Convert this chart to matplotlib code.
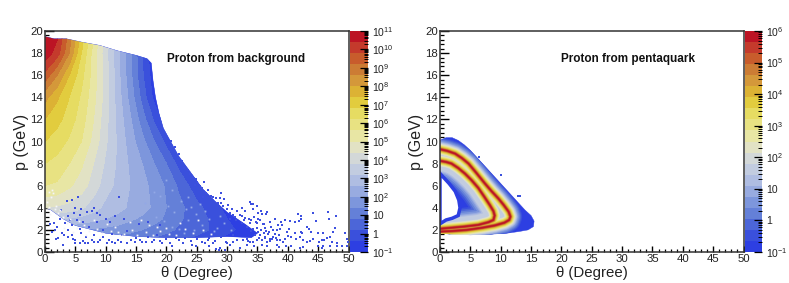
import matplotlib
matplotlib.use("Agg")
import matplotlib.pyplot as plt
from matplotlib.colors import ListedColormap, BoundaryNorm
from matplotlib.patches import Polygon
from matplotlib.ticker import LogLocator, MultipleLocator
import numpy as np

plt.rcParams['font.family'] = ['Liberation Sans', 'DejaVu Sans']
plt.rcParams['mathtext.default'] = 'regular'

BANDS = ['#2d3fe2', '#3a50dc', '#4c66d8', '#6480d8', '#7d96dc', '#98abe0', '#afbde2', '#c2cce0',
         '#d3d8d8', '#e2e2c4', '#e8e6a4', '#e8e282', '#e6dc62', '#e2cc3e', '#dcb234', '#d4983a',
         '#cc7c34', '#c85c2c', '#c43a2c', '#bc1424']
# stroke width of each band around a pentaquark ridge, points
RIDGE_WIDTHS = [0, 17, 15.5, 14, 12.5, 11, 10, 9, 8, 7.2, 6.4, 5.6, 4.8, 4, 3.2, 2.6, 2.2, 1.8, 1.4, 1.0]

# background histogram, log10(counts)
BG_THETA = [0, 2, 4, 6, 8, 10, 12, 14, 16, 18, 20, 22, 25, 28, 32, 36, 50]
BG_P = [1, 2, 3, 4, 6, 8, 10, 12, 14, 16, 18, 20]
BG_LOG = [
    [0.5, 0.6, 0.8, 1.0, 1.0, 1.0, 1.0, 0.9, 0.8, 0.6, 0.4, 0.2, 0, -0.4, -1, -1, -1],
    [1.5, 2.0, 2.2, 2.0, 1.9, 1.8, 1.7, 1.6, 1.4, 1.2, 1.0, 0.7, 0.4, 0.1, -0.5, -1, -1],
    [3.3, 3.2, 3.1, 3.0, 2.8, 2.6, 2.4, 2.1, 1.9, 1.6, 1.3, 0.9, 0.5, 0.0, -0.8, -1, -1],
    [4.4, 4.3, 4.2, 3.9, 3.5, 3.0, 2.8, 2.5, 2.2, 1.9, 1.4, 1.0, 0.4, -0.2, -1, -1, -1],
    [5.6, 5.5, 5.1, 4.7, 4.1, 3.5, 3.0, 2.6, 2.2, 1.8, 1.3, 0.7, -0.2, -1, -1, -1, -1],
    [6.2, 6.0, 5.6, 5.1, 4.4, 3.7, 3.1, 2.5, 2.0, 1.4, 0.8, 0.0, -1, -1, -1, -1, -1],
    [6.8, 6.5, 6.1, 5.6, 4.8, 3.9, 3.1, 2.3, 1.6, 0.8, 0.0, -0.9, -1, -1, -1, -1, -1],
    [7.4, 7.0, 6.5, 5.9, 5.0, 4.0, 3.0, 2.1, 1.1, 0.1, -0.8, -1, -1, -1, -1, -1, -1],
    [8.2, 7.5, 6.8, 6.1, 5.2, 4.1, 2.9, 1.8, 0.6, -0.6, -1, -1, -1, -1, -1, -1, -1],
    [9.6, 8.6, 7.4, 6.4, 5.3, 4.1, 2.8, 1.6, 0.3, -0.8, -1, -1, -1, -1, -1, -1, -1],
    [10.8, 10.1, 8.6, 6.8, 5.3, 4.0, 2.8, 1.6, 0.2, -1, -1, -1, -1, -1, -1, -1, -1],
    [11, 10.6, 9.0, 7.2, 5.8, 4.2, 2.8, 1.6, 0.3, -1, -1, -1, -1, -1, -1, -1, -1],
]
BG_EDGE_THETA = [0, 1.5, 3.5, 6, 9, 12, 15, 16.8, 17.5, 17.8, 18.2, 18.8, 19.5, 20.5, 22, 24, 26, 28, 30, 33,
                 35, 34, 30, 25, 20, 15, 10, 5, 3, 1, 0]
BG_EDGE_P = [19.5, 19.3, 19.3, 19, 18.7, 18.2, 17.8, 17.5, 17.1, 15.5, 14, 12.5, 11.2, 10.2, 8.7, 7.2, 5.7, 4.6,
             3.6, 2.5, 1.7, 1.3, 1.4, 1.3, 1.3, 1.4, 1.7, 2.4, 3.0, 3.8, 4.0]

# scattered single entries outside the dense part
DOT_THETA = [34.0, 34.9, 34.2, 35.6, 36.6, 35.1, 35.7, 36.4, 37.9, 37.0, 35.1, 39.6, 40.3, 41.2, 41.7, 42.1, 42.1,
             41.9, 44.1, 46.7, 47.9, 46.8, 44.6, 38.4, 38.8, 39.0, 38.2, 38.7, 39.9, 40.2, 41.2, 42.2, 42.4, 43.1,
             43.5, 43.8, 44.9, 45.8, 47.4, 47.7, 49.4, 49.8, 49.9, 47.0, 46.4, 45.6, 44.2, 43.6, 43.1, 42.5, 42.0,
             41.4, 40.6, 40.1, 39.5, 39.2, 38.7, 38.2, 37.6, 37.1, 36.2, 35.7, 34.9, 34.3, 34.4, 35.7, 36.5, 38.2,
             38.6, 39.7, 40.6, 42.0, 42.5, 45.0, 45.8, 47.0, 48.1, 48.1, 49.0, 49.7, 45.2, 46.0, 47.2, 45.7,
             20.7, 21.4, 22.0, 22.5, 22.9, 23.9, 25.1, 26.2, 24.7, 25.8, 27.3, 27.7, 29.0, 29.5, 28.9, 26.0, 29.0,
             30.2, 33.7, 34.3, 35.0, 32.4, 31.7, 32.9, 34.2, 35.1, 30.5, 29.7, 31.0, 32.1, 33.8, 34.9, 32.8, 33.2,
             34.3, 35.1, 33.8, 32.1, 30.5, 28.8, 27.7, 26.4, 24.2, 22.8, 20.6, 19.2, 17.6, 28.6, 33.2, 31.6, 29.9,
             25.8, 2.9, 1.8, 2.2, 1.65, 3.85, 5.0, 5.7, 6.6, 7.1, 5.0, 7.7, 8.8, 10.2, 11.0, 11.5, 12.6, 13.5, 14.8,
             15.6, 16.7, 3.85, 4.4, 6.0, 8.0, 9.6, 12.2, 5.5, 4.4, 3.6, 8.5, 9.1, 7.7, 5.8, 4.7, 4.1, 6.3, 8.5, 10.7,
             23.5, 24.3, 24.9, 25.6, 26.8, 26.5, 28.2, 28.5, 29.3, 30.0, 30.8, 31.3, 32.5, 33.0, 33.6, 34.4, 35.5,
             36.0, 36.3, 37.2, 37.6, 36.9, 37.9, 38.6, 37.0, 36.5, 36.0, 35.0, 34.6, 33.5, 32.6, 31.0, 30.0, 28.0,
             27.0, 29.6, 28.2, 24.9, 26.9, 24.0, 22.0, 21.0, 19.0, 18.0, 16.0, 14.2, 12.0, 10.6, 9.0, 8.0, 6.3,
             4.6, 3.2, 2.8, 1.2, 0.8, 1.5, 2.0, 2.5, 3.3, 4.5, 5.2, 3.8, 2.6, 5.8, 6.8, 7.3, 9.5, 11.0, 12.5, 13.5,
             15.0, 17.0, 18.5, 20.0, 21.5, 23.0, 25.0, 27.0, 29.0, 31.0, 4.9, 6.0, 7.0, 8.0, 10.0, 11.5, 13.0,
             15.5, 17.0, 19.0,
             35.4, 36.2, 36.8, 35.9, 34.7, 33.9, 37.4, 38.0, 36.4, 35.2, 33.2, 32.4, 31.4, 30.4, 34.0, 35.6]
DOT_P = [4.3, 4.2, 3.9, 3.7, 3.6, 3.5, 3.4, 3.4, 3.0, 2.7, 2.96, 2.9, 2.8, 2.75, 3.4, 3.26, 3.0,
         2.8, 3.5, 3.6, 3.26, 2.95, 2.8, 2.4, 2.7, 2.4, 2.0, 2.05, 1.8, 2.05, 1.7, 1.84, 1.7, 2.3,
         2.1, 1.84, 1.7, 1.7, 1.84, 2.2, 1.75, 1.2, 0.9, 1.4, 1.3, 1.1, 1.2, 1.0, 0.9, 1.1, 1.4,
         1.2, 1.4, 1.45, 1.2, 0.9, 1.1, 1.1, 1.4, 1.2, 1.4, 1.1, 1.1, 0.9, 0.5, 0.6, 0.5, 0.6,
         0.45, 0.57, 0.5, 0.33, 0.42, 0.5, 0.5, 0.57, 0.8, 0.57, 0.5, 0.5, 0.9, 1.1, 0.9, 0.33,
         10.05, 9.5, 8.9, 8.2, 7.6, 7.1, 6.3, 6.3, 6.1, 5.8, 5.1, 5.0, 5.3, 4.8, 4.85, 5.0, 4.4,
         4.25, 4.5, 4.3, 4.2, 4.0, 3.75, 3.7, 3.9, 3.5, 3.5, 3.35, 3.35, 3.35, 2.6, 2.6, 2.9, 2.3,
         2.1, 1.84, 0.9, 0.33, 0.63, 0.33, 0.78, 0.78, 0.63, 0.78, 0.78, 0.78, 0.87, 0.2, 0.63, 1.1, 0.93,
         0.93, 0.63, 1.2, 1.3, 2.0, 1.4, 0.8, 0.8, 0.8, 0.8, 1.1, 1.1, 0.9, 0.8, 0.9, 0.8, 0.9, 0.8, 0.9,
         1.1, 0.9, 2.0, 1.54, 1.7, 1.54, 1.4, 4.95, 5.0, 4.7, 4.6, 3.5, 3.35, 3.7, 3.35, 3.5, 2.9, 2.75, 2.75, 2.75,
         7.4, 6.8, 6.6, 6.0, 5.6, 5.3, 4.9, 4.4, 4.2, 3.9, 3.9, 3.2, 3.3, 3.1, 3.0, 3.2, 2.9,
         2.5, 2.2, 2.3, 2.0, 1.8, 1.6, 1.5, 1.0, 0.9, 1.7, 2.2, 1.5, 1.0, 1.1, 0.9, 0.8, 1.0,
         0.5, 0.15, 0.3, 0.5, 1.05, 1.0, 1.05, 0.5, 1.0, 1.1, 0.95, 1.1, 1.1, 1.05, 1.1, 0.95, 1.0,
         1.2, 1.5, 1.7, 1.8, 2.5, 2.6, 2.3, 3.0, 2.6, 2.4, 2.9, 3.3, 3.8, 2.1, 1.4, 2.3, 2.0, 1.6, 1.5, 1.9,
         1.3, 1.4, 1.5, 1.2, 1.3, 1.3, 1.2, 1.3, 1.4, 1.5, 4.0, 3.9, 3.6, 4.0, 3.0, 3.3, 3.0,
         2.5, 2.7, 2.4,
         1.5, 1.3, 1.6, 2.5, 2.7, 2.9, 1.2, 1.3, 1.9, 1.25, 1.15, 2.6, 2.9, 3.0, 1.9, 2.0]

# pale gaps inside the dense low-momentum part
GAP_THETA = [0.6, 1.0, 1.4, 0.4, 1.8, 2.4, 0.8, 3.0, 3.6, 5.2, 6.4, 7.2, 8.6, 9.4, 10.8, 11.6, 13.0, 14.4,
             15.2, 16.6, 17.8, 19.0, 20.4, 21.6, 23.0, 24.4, 26.0, 3.2, 4.6, 6.8, 9.0, 12.4, 14.0, 18.4, 22.2,
             1.2, 0.7, 1.6, 2.1, 4.2, 5.6, 8.1, 10.2, 12.0, 15.8, 17.2, 20.0, 25.2, 27.4]
GAP_P = [5.4, 5.0, 5.3, 4.5, 4.2, 3.8, 3.4, 3.2, 2.6, 2.2, 2.4, 1.9, 2.1, 1.7, 1.9, 2.3, 1.6, 2.0,
         1.5, 1.8, 1.5, 1.9, 1.6, 1.5, 2.1, 1.7, 2.0, 2.2, 1.8, 1.5, 1.4, 1.5, 2.7, 2.3, 2.6,
         5.6, 4.1, 3.9, 3.5, 3.0, 2.8, 2.9, 2.5, 1.8, 2.9, 2.4, 2.2, 2.9, 1.6]

# paler bins scattered through the blue part
PALE_THETA = [19.0, 20.2, 21.3, 22.4, 23.6, 24.8, 25.9, 27.1, 28.3, 29.5, 18.3, 19.6, 20.9, 22.0, 23.2, 24.5, 26.4,
              27.8, 16.5, 18.0, 21.0, 23.5, 25.5, 28.9, 30.6, 20.0, 22.9, 24.1]
PALE_P = [5.1, 4.2, 3.6, 4.6, 2.9, 3.4, 2.4, 3.0, 2.2, 2.6, 3.2, 2.8, 2.3, 2.1, 3.9, 2.0, 3.7,
          1.9, 4.4, 5.4, 5.6, 5.0, 4.3, 3.3, 2.0, 6.5, 1.7, 4.1]

# pentaquark proton region and its two ridges
PQ_EDGE_THETA = [0, 1, 2, 3, 4, 5, 6, 7, 8, 9, 10, 11, 12, 13, 14, 15, 15.5, 15.4, 14.5, 13, 11, 8, 5, 2, 0]
PQ_EDGE_P = [10.1, 10.35, 10.35, 10.1, 9.7, 9.2, 8.6, 8.0, 7.4, 6.8, 6.2, 5.6, 5.0, 4.4, 3.8, 3.3, 2.8, 2.3, 2.0,
             1.85, 1.7, 1.6, 1.55, 1.6, 1.7]
PQ_HOLE_THETA = [0, 1, 2, 3, 3.3, 3.1, 2.5, 1.5, 0.5, 0]
PQ_HOLE_P = [2.55, 2.9, 3.05, 3.3, 4.0, 4.7, 5.5, 6.2, 6.8, 7.1]
RIDGE_OUT_THETA = [0, 1.2, 2.5, 3.6, 4.7, 6, 7.4, 8.5, 9.6, 10.5, 11.3, 11.6, 11.4, 10.6, 9, 7, 4.4, 2, 0]
RIDGE_OUT_P = [9.3, 9.15, 8.9, 8.5, 8.0, 7.15, 6.2, 5.5, 4.85, 4.25, 3.65, 3.2, 2.9, 2.65, 2.4, 2.2, 2.0, 1.9, 1.85]
RIDGE_IN_THETA = [0, 1, 1.9, 3, 4.1, 5.2, 6.3, 7.3, 8.2, 8.8, 9.0, 8.8, 8, 6.3, 4, 2, 0]
RIDGE_IN_P = [8.25, 8.15, 8.0, 7.6, 7.1, 6.5, 5.8, 5.0, 4.25, 3.7, 3.3, 2.9, 2.7, 2.45, 2.3, 2.2, 2.1]
PQ_STRAY_THETA = [10.1, 12.8, 13.2, 6.5]
PQ_STRAY_P = [7.0, 5.05, 5.05, 8.6]

LEFT_TICKS = [0.1, 1, 10, 1e2, 1e3, 1e4, 1e5, 1e6, 1e7, 1e8, 1e9, 1e10, 1e11]
LEFT_LABELS = ['$10^{-1}$', '1', '10', '$10^{2}$', '$10^{3}$', '$10^{4}$', '$10^{5}$', '$10^{6}$', '$10^{7}$',
               '$10^{8}$', '$10^{9}$', '$10^{10}$', '$10^{11}$']
RIGHT_TICKS = [0.1, 1, 10, 1e2, 1e3, 1e4, 1e5, 1e6]
RIGHT_LABELS = LEFT_LABELS[:8]

W, H = 789, 283
TEXT = '#222222'


def px_axes(fig, x0, x1, y0, y1):
    return fig.add_axes([x0 / W, 1 - y1 / H, (x1 - x0) / W, (y1 - y0) / H])


def style_main(ax):
    ax.set_xlim(0, 50)
    ax.set_ylim(0, 20)
    ax.xaxis.set_major_locator(MultipleLocator(5))
    ax.xaxis.set_minor_locator(MultipleLocator(1))
    ax.yaxis.set_major_locator(MultipleLocator(2))
    ax.yaxis.set_minor_locator(MultipleLocator(0.4))
    ax.tick_params(which='major', direction='in', width=1.0, labelsize=8.2, pad=1.5, labelcolor=TEXT)
    ax.tick_params(which='minor', direction='in', width=0.9)
    ax.tick_params(axis='x', which='major', length=4.5)
    ax.tick_params(axis='x', which='minor', length=2.3)
    ax.tick_params(axis='y', which='major', length=6.5)
    ax.tick_params(axis='y', which='minor', length=3.2)
    for s in ax.spines.values():
        s.set_linewidth(1.1)
        s.set_color('#333333')
    ax.set_xlabel('θ (Degree)', fontsize=10.8, labelpad=1.5, color=TEXT)
    ax.set_ylabel('p (GeV)', fontsize=11.5, labelpad=0.5, color=TEXT)


def colorbar(fig, x0, x1, y0, y1, top_exp, ticks, labels):
    cax = px_axes(fig, x0, x1, y0, y1)
    edges = np.logspace(-1, top_exp, len(BANDS) + 1)
    cmap = ListedColormap(BANDS)
    cax.pcolormesh([0, 1], edges, np.arange(len(BANDS)).reshape(-1, 1), cmap=cmap, vmin=-0.5, vmax=19.5)
    cax.set_yscale('log')
    cax.set_ylim(0.1, 10.0 ** top_exp)
    cax.set_xticks([])
    cax.yaxis.tick_right()
    cax.set_yticks(ticks, labels)
    cax.yaxis.set_minor_locator(LogLocator(base=10, subs=range(2, 10), numticks=30))
    cax.yaxis.set_minor_formatter(plt.NullFormatter())
    cax.tick_params(axis='y', which='major', direction='in', length=5.5, width=0.9, labelsize=7.5, pad=3,
                    labelcolor=TEXT)
    cax.tick_params(axis='y', which='minor', direction='in', length=2.8, width=0.7)
    for s in cax.spines.values():
        s.set_visible(False)
    return cax


def draw_background(ax):
    levels = np.linspace(-1, 11, len(BANDS) + 1)
    norm = BoundaryNorm(levels, len(BANDS))
    clip = Polygon(np.column_stack([BG_EDGE_THETA, BG_EDGE_P]), closed=True, fc=BANDS[0], ec=BANDS[0], lw=0.3, zorder=1)
    ax.add_patch(clip)
    cs = ax.contourf(BG_THETA, BG_P, np.array(BG_LOG), levels=levels, colors=BANDS, norm=norm, zorder=2)
    cs.set_clip_path(clip)
    ax.plot(PALE_THETA, PALE_P, ls='none', marker='s', ms=1.3, mew=0, color='#93a8e6', zorder=3)
    ax.plot(DOT_THETA, DOT_P, ls='none', marker='s', ms=1.9, mew=0, color='#3d50e0', zorder=3)
    ax.plot(GAP_THETA, GAP_P, ls='none', marker='s', ms=1.3, mew=0, color='#f4f4f8', zorder=3.1)
    ax.text(20.1, 17.5, 'Proton from background', fontsize=8.5, fontweight='bold', va='center', color='#111111')


def draw_pentaquark(ax):
    outer = Polygon(np.column_stack([PQ_EDGE_THETA, PQ_EDGE_P]), closed=True, fc=BANDS[0], ec=BANDS[0], lw=0.3, zorder=1)
    ax.add_patch(outer)
    # stack the bands as strokes along each ridge, widest and faintest first
    for i in range(1, len(BANDS)):
        for th, p, k in ((RIDGE_OUT_THETA, RIDGE_OUT_P, 1.0), (RIDGE_IN_THETA, RIDGE_IN_P, 1.6)):
            lw = RIDGE_WIDTHS[i] * k if i < 8 else RIDGE_WIDTHS[i]
            line, = ax.plot(th, p, color=BANDS[i], lw=lw, solid_joinstyle='round', zorder=2 + i / 100)
            line.set_clip_path(outer)
    hole = Polygon(np.column_stack([PQ_HOLE_THETA, PQ_HOLE_P]), closed=True, fc='white', ec=BANDS[0], lw=2.5, zorder=2.5)
    ax.add_patch(hole)
    ax.plot(PQ_STRAY_THETA, PQ_STRAY_P, ls='none', marker='s', ms=1.5, mew=0, color=BANDS[1], zorder=3)
    ax.text(20.0, 17.5, 'Proton from pentaquark', fontsize=8.5, fontweight='bold', va='center', color='#111111')


def main():
    fig = plt.figure(figsize=(W / 100, H / 100), dpi=100)
    ax1 = px_axes(fig, 45, 348.5, 31, 252)
    draw_background(ax1)
    style_main(ax1)
    colorbar(fig, 349.5, 368, 31, 252, 11, LEFT_TICKS, LEFT_LABELS)

    ax2 = px_axes(fig, 440, 743.5, 31, 252)
    draw_pentaquark(ax2)
    style_main(ax2)
    colorbar(fig, 745, 762, 31, 252, 6, RIGHT_TICKS, RIGHT_LABELS)

    fig.savefig('out.png', dpi=100)


if __name__ == '__main__':
    main()
